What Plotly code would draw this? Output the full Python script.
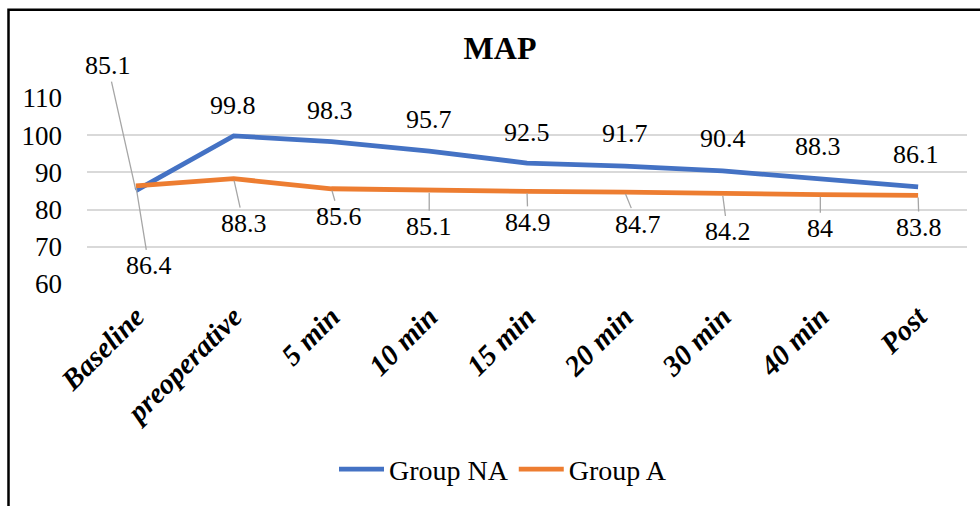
import plotly.graph_objects as go

categories = ["Baseline", "preoperative", "5 min", "10 min", "15 min",
              "20 min", "30 min", "40 min", "Post"]
group_na = [85.1, 99.8, 98.3, 95.7, 92.5, 91.7, 90.4, 88.3, 86.1]
group_a = [86.4, 88.3, 85.6, 85.1, 84.9, 84.7, 84.2, 84, 83.8]
y_ticks = [60, 70, 80, 90, 100, 110]

# label placement (pixel offsets of the label centre from the point, leader line flag)
na_label_pos = [(-28, -125, True), (-1, -30, False), (-1, -31, False), (0, -32, False),
                (0, -31, False), (0, -33, False), (0, -32, False), (-2, -32, False),
                (-2, -32, False)]
a_label_pos = [(13, 80, True), (10, 45, True), (8, 28, True), (0, 36, True),
               (1, 31, True), (13, 32, True), (5, 38, True), (0, 34, True),
               (1, 32, True)]

FONT = "Liberation Serif, Times New Roman, Times, serif"
BLUE = "#4472C4"
ORANGE = "#ED7D31"
W, H = 980, 506
L, R, T, B = 87, 13, 97.5, 221

fig = go.Figure()
fig.add_trace(go.Scatter(x=categories, y=group_na, mode="lines", name="Group NA",
                         line=dict(color=BLUE, width=4.8)))
fig.add_trace(go.Scatter(x=categories, y=group_a, mode="lines", name="Group A",
                         line=dict(color=ORANGE, width=4.8)))

ann = []
BOX_ADJ = 0  # box centre vs digit centre
LBL = dict(family=FONT, size=26, color="#000")
for series, pos in ((group_na, na_label_pos), (group_a, a_label_pos)):
    for c, v, (dx, dy, lead) in zip(categories, series, pos):
        txt = f"{v:g}"
        if lead:
            ann.append(dict(x=c, y=v, text=txt, showarrow=True, arrowhead=0,
                            arrowwidth=1.3, arrowcolor="#A6A6A6", ax=dx, ay=dy + BOX_ADJ,
                            standoff=2, font=LBL))
        else:
            ann.append(dict(x=c, y=v, text=txt, showarrow=False, xshift=dx,
                            yshift=-(dy + BOX_ADJ), font=LBL))

pw = W - L - R
ph = H - T - B
frame = dict(type="rect", xref="paper", yref="paper",
             x0=(8.5 - L) / pw, x1=(W + 20 - L) / pw,
             y0=-(H + 20 - (T + ph)) / ph, y1=(T + ph - 8.5) / ph,
             line=dict(color="#000", width=2.5), fillcolor="rgba(0,0,0,0)", layer="above")

fig.update_layout(
    width=W, height=H,
    margin=dict(l=L, r=R, t=T, b=B),
    font=dict(family=FONT, color="#000"),
    paper_bgcolor="white", plot_bgcolor="white",
    title=dict(text="<b>MAP</b>", x=500 / W, xanchor="center", xref="container",
               y=1 - 48 / H, yanchor="middle", yref="container",
               font=dict(family=FONT, size=32, color="#000")),
    xaxis=dict(type="category", range=[-0.5, len(categories) - 0.5], showgrid=False,
               showline=False, zeroline=False, tickangle=-45, ticks="",
               ticklabelstandoff=9,
               tickfont=dict(family=FONT, size=29, color="#000", weight="bold", style="italic")),
    yaxis=dict(range=[60, 110], tickvals=y_ticks, showgrid=True, gridcolor="#D9D9D9",
               gridwidth=1.5, zeroline=False, showline=False, ticks="",
               ticklabelstandoff=24,
               tickfont=dict(family=FONT, size=27, color="#000")),
    legend=dict(orientation="h", x=(503 - L) / pw, xanchor="center",
                y=-(470 - (T + ph)) / ph, yanchor="middle",
                font=dict(family=FONT, size=28, color="#000"), itemwidth=45,
                bgcolor="rgba(0,0,0,0)"),
    annotations=ann,
    shapes=[frame],
)

fig.write_html("out.html", config={"displayModeBar": False},
               post_script="document.body.style.margin='0px';")
